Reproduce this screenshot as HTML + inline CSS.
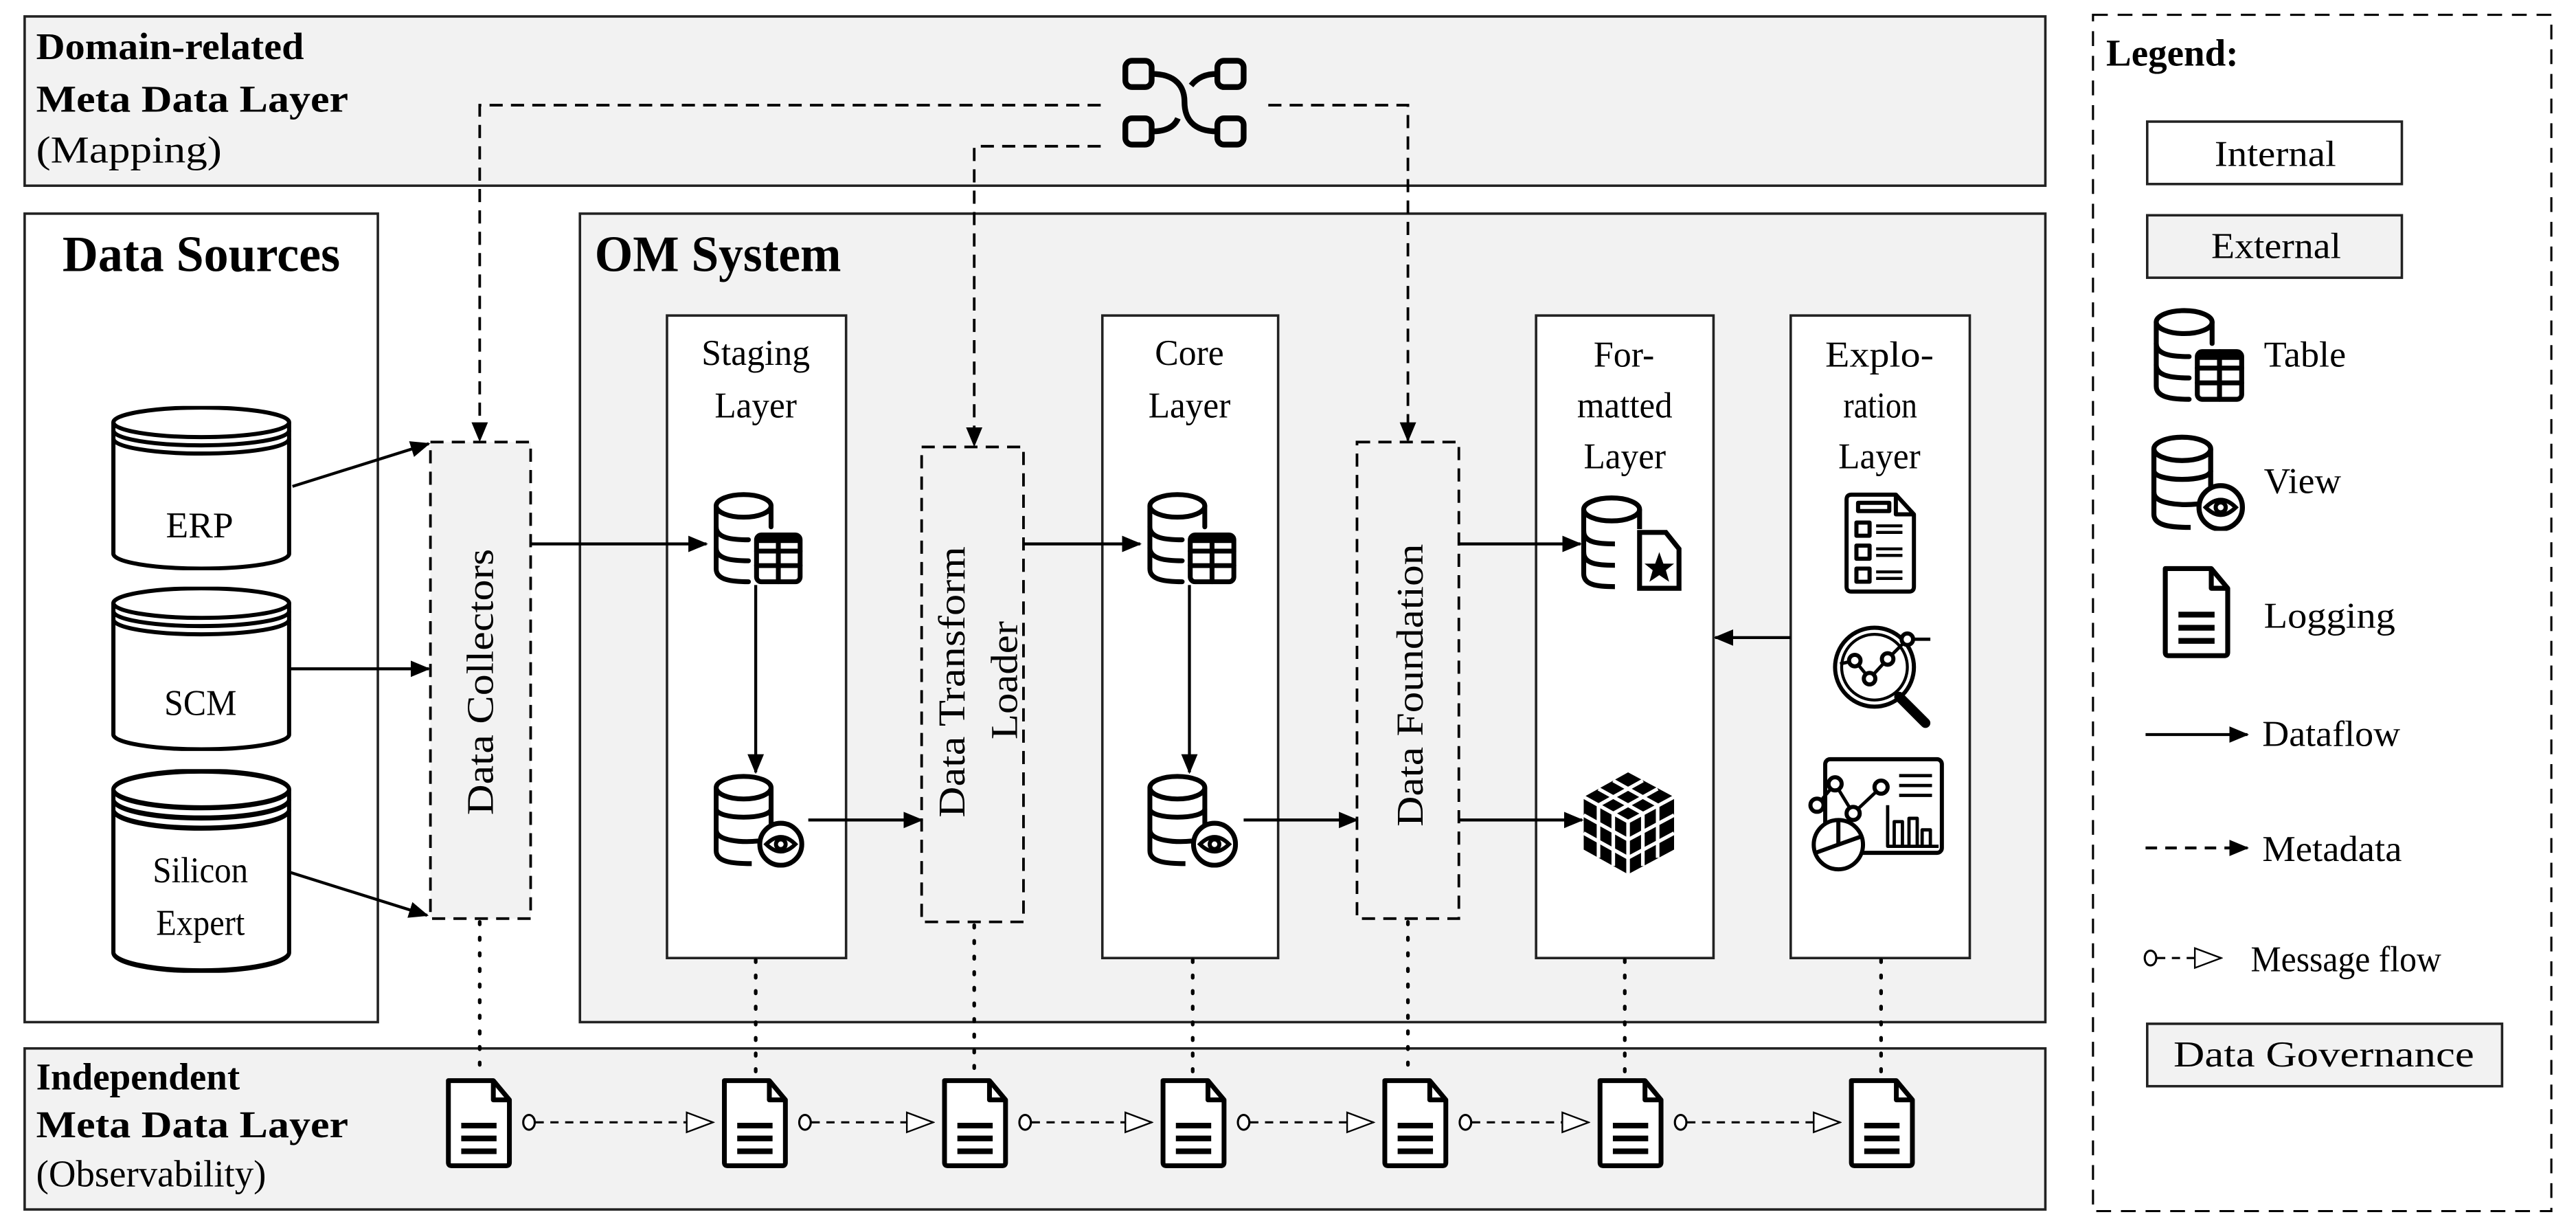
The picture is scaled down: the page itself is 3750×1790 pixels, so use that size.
<!DOCTYPE html>
<html><head><meta charset="utf-8"><style>
html,body{margin:0;padding:0;background:#fff;}
svg{display:block;}
svg text{font-family:"Liberation Serif","Times New Roman",serif !important;fill:#000;}
</style></head><body>
<svg width="3750" height="1790" viewBox="0 0 1568 748.5" preserveAspectRatio="none" xmlns="http://www.w3.org/2000/svg" style="font-family:'Liberation Serif',serif">
<defs>
<marker id="ah" markerWidth="12" markerHeight="10" refX="11" refY="5" orient="auto" markerUnits="userSpaceOnUse"><path d="M0,0 L12,5 L0,10 Z" fill="#000"/></marker>
<marker id="ot" markerWidth="18" markerHeight="14" refX="17" refY="7" orient="auto" markerUnits="userSpaceOnUse"><path d="M1,1 L17,7 L1,13 Z" fill="#fff" stroke="#000" stroke-width="1"/></marker>
<symbol id="tbl" viewBox="0 0 60 58"><g fill="none" stroke="#000" stroke-width="3" stroke-linecap="round">
<ellipse cx="22" cy="9" rx="17" ry="7"/><path d="M5,9 V48 C5,55 15,56 25,56"/><path d="M39,9 V22"/>
<path d="M5,22 C5,29 15,30 25,30"/><path d="M5,35 C5,42 15,43 25,43"/>
<rect x="30" y="27" width="27" height="29" rx="3"/><path d="M43.5,27 V56 M30,37 H57 M30,46 H57"/></g>
<rect x="30" y="27" width="27" height="5" fill="#000"/></symbol>
<symbol id="vw" viewBox="0 0 60 58"><g fill="none" stroke="#000" stroke-width="3">
<ellipse cx="21" cy="9" rx="17" ry="7"/><path d="M4,9 V48 C4,55 14,56 26,56"/><path d="M38,9 V32"/>
<path d="M4,22 C4,29 38,29 38,22"/><path d="M4,35 C4,42 20,43 30,42"/>
<circle cx="44" cy="44" r="13" fill="#fff"/><path d="M35,44 Q44,35 53,44 Q44,53 35,44 Z" stroke-width="2.5"/><circle cx="44" cy="44" r="3" stroke-width="2.5"/></g></symbol>
<symbol id="doc" viewBox="0 0 44 58"><g fill="#fff" stroke="#000" stroke-width="3" stroke-linejoin="round">
<path d="M3,3 H31 L41,15 V54 Q41,56 39,56 H5 Q3,56 3,54 Z"/><path d="M31,3 V15 H41" fill="none"/>
<path d="M11,31 H33 M11,39 H33 M11,47 H33" stroke-width="3.5"/></g></symbol>
<symbol id="cyl" viewBox="0 0 110 100" preserveAspectRatio="none"><g fill="#fff" stroke="#000" stroke-width="2.5">
<path d="M2,10 V90 A53,9 0 0 0 108,90 V10"/><ellipse cx="55" cy="10" rx="53" ry="9"/>
<path d="M2,15 A53,9 0 0 0 108,15 M2,20 A53,9 0 0 0 108,20" fill="none"/></g></symbol>
</defs>

<rect x="15" y="10" width="1230" height="103" fill="#f2f2f2" stroke="#222" stroke-width="1.5"/>
<text x="22" y="36" font-size="23" font-weight="bold" textLength="163" lengthAdjust="spacingAndGlyphs">Domain-related</text>
<text x="22" y="68" font-size="23" font-weight="bold" textLength="190" lengthAdjust="spacingAndGlyphs">Meta Data Layer</text>
<text x="22" y="99" font-size="23" textLength="113" lengthAdjust="spacingAndGlyphs">(Mapping)</text>
<g fill="none" stroke="#000" stroke-width="3.5">
<rect x="685" y="37" width="16" height="16" rx="4"/><rect x="685" y="72" width="16" height="16" rx="4"/>
<rect x="741" y="37" width="16" height="16" rx="4"/><rect x="741" y="72" width="16" height="16" rx="4"/>
<path d="M701,45 C716,45 721,53 721,62 C721,72 726,80 741,80"/>
<path d="M701,80 C710,80 715,77 717,72"/><path d="M725,52 C729,47 734,45 741,45"/>
</g>

<rect x="15" y="130" width="215" height="492" fill="#fff" stroke="#222" stroke-width="1.5"/>
<text x="38" y="165" font-size="31" font-weight="bold" textLength="169" lengthAdjust="spacingAndGlyphs">Data Sources</text>
<use href="#cyl" x="67" y="247" width="111" height="100"/>
<use href="#cyl" x="67" y="357" width="111" height="100"/>
<use href="#cyl" x="67" y="468" width="111" height="124"/>
<text x="101" y="327" font-size="22" textLength="41" lengthAdjust="spacingAndGlyphs">ERP</text>
<text x="100" y="435" font-size="22" textLength="44" lengthAdjust="spacingAndGlyphs">SCM</text>
<text x="93" y="537" font-size="22" textLength="58" lengthAdjust="spacingAndGlyphs">Silicon</text>
<text x="95" y="569" font-size="22" textLength="54" lengthAdjust="spacingAndGlyphs">Expert</text>

<rect x="353" y="130" width="892" height="492" fill="#f2f2f2" stroke="#222" stroke-width="1.5"/>
<text x="362" y="165" font-size="31" font-weight="bold" textLength="150" lengthAdjust="spacingAndGlyphs">OM System</text>

<g fill="none" stroke="#000" stroke-width="1.6" stroke-dasharray="8,5">
<path d="M670,64 H292 V268" marker-end="url(#ah)"/>
<path d="M670,89 H593 V271" marker-end="url(#ah)"/>
<path d="M772,64 H857 V268" marker-end="url(#ah)"/>
</g>

<g fill="#f2f2f2" stroke="#000" stroke-width="1.6" stroke-dasharray="8,5">
<rect x="262" y="269" width="61" height="290"/>
<rect x="561" y="272" width="62" height="289"/>
<rect x="826" y="269" width="62" height="290"/>
</g>
<text transform="translate(300,415) rotate(-90)" font-size="23" text-anchor="middle" textLength="162" lengthAdjust="spacingAndGlyphs">Data Collectors</text>
<text transform="translate(587,415) rotate(-90)" font-size="23" text-anchor="middle" textLength="165" lengthAdjust="spacingAndGlyphs">Data Transform</text>
<text transform="translate(619,414) rotate(-90)" font-size="23" text-anchor="middle" textLength="72" lengthAdjust="spacingAndGlyphs">Loader</text>
<text transform="translate(866,417) rotate(-90)" font-size="23" text-anchor="middle" textLength="172" lengthAdjust="spacingAndGlyphs">Data Foundation</text>

<g fill="#fff" stroke="#222" stroke-width="1.5">
<rect x="406" y="192" width="109" height="391"/>
<rect x="671" y="192" width="107" height="391"/>
<rect x="935" y="192" width="108" height="391"/>
<rect x="1090" y="192" width="109" height="391"/>
</g>
<g font-size="22" lengthAdjust="spacingAndGlyphs">
<text x="427" y="222" textLength="66" lengthAdjust="spacingAndGlyphs">Staging</text><text x="435" y="254" textLength="50" lengthAdjust="spacingAndGlyphs">Layer</text>
<text x="703" y="222" textLength="42" lengthAdjust="spacingAndGlyphs">Core</text><text x="699" y="254" textLength="50" lengthAdjust="spacingAndGlyphs">Layer</text>
<text x="970" y="223" textLength="37" lengthAdjust="spacingAndGlyphs">For-</text><text x="960" y="254" textLength="58" lengthAdjust="spacingAndGlyphs">matted</text><text x="964" y="285" textLength="50" lengthAdjust="spacingAndGlyphs">Layer</text>
<text x="1111" y="223" textLength="66" lengthAdjust="spacingAndGlyphs">Explo-</text><text x="1122" y="254" textLength="45" lengthAdjust="spacingAndGlyphs">ration</text><text x="1119" y="285" textLength="50" lengthAdjust="spacingAndGlyphs">Layer</text>
</g>

<use href="#tbl" x="431" y="299" width="59" height="57"/>
<use href="#vw" x="432" y="470" width="59" height="58"/>
<use href="#tbl" x="695" y="299" width="59" height="57"/>
<use href="#vw" x="696" y="470" width="59" height="58"/>

<g fill="none" stroke="#000" stroke-width="3">
<ellipse cx="981" cy="310" rx="17" ry="7"/><path d="M964,310 V349 C964,356 972,357 983,357"/><path d="M998,310 V322"/>
<path d="M964,323 C964,330 972,331 983,331"/><path d="M964,336 C964,343 972,344 983,344"/>
<path d="M998,324 H1014 L1022,334 V358 H998 Z" fill="#fff"/>
</g>
<path d="M1010,336 L1012.5,343 L1019,343 L1014,347 L1016,354 L1010,350 L1004,354 L1006,347 L1001,343 L1007.5,343 Z" fill="#000"/>
<g>
<path d="M991,470 L1019,485 L1019,517 L991,532 L964,517 L964,485 Z" fill="#000"/>
<g stroke="#fff" stroke-width="2.2" fill="none">
<path d="M964,485 L991,500 L1019,485 M991,500 V532"/>
<path d="M973,480 L1000,495 M982,475 L1009,490 M1009,480 L982,495 M1000,475 L973,490"/>
<path d="M964,496 L991,511 L1019,496 M964,507 L991,522 L1019,507"/>
<path d="M973,490 V522 M982,495 V527 M1000,495 V527 M1009,490 V522"/>
</g></g>

<g fill="none" stroke="#000" stroke-width="2.5" stroke-linejoin="round">
<path d="M1127,301 H1154 L1165,313 V357 Q1165,360 1162,360 H1127 Q1124,360 1124,357 V304 Q1124,301 1127,301 Z"/>
<path d="M1154,301 V313 H1165" />
<path d="M1131,306 H1150 V311 H1131 Z"/>
<rect x="1130" y="318" width="8" height="8"/><rect x="1130" y="332" width="8" height="8"/><rect x="1130" y="346" width="8" height="8"/>
<path d="M1142,320 H1158 M1142,324 H1158 M1142,334 H1158 M1142,338 H1158 M1142,348 H1158 M1142,352 H1158" stroke-width="1.8"/>
<circle cx="1141" cy="406" r="24"/><circle cx="1141" cy="406" r="20" stroke-width="1.8"/>
<path d="M1156,424 L1172,440" stroke-width="6" stroke-linecap="round"/>
<path d="M1120,404 L1129,402 L1138,413 L1149,401 L1161,389 H1175" stroke-width="2"/>
<circle cx="1129" cy="402" r="3.5" fill="#fff"/><circle cx="1138" cy="413" r="3.5" fill="#fff"/><circle cx="1149" cy="401" r="3.5" fill="#fff"/><circle cx="1161" cy="389" r="3.5" fill="#fff"/>
<rect x="1111" y="462" width="71" height="57" rx="3"/>
<path d="M1106,490 L1117,477 L1128,495 L1145,479" stroke-width="2"/>
<circle cx="1106" cy="490" r="4" fill="#fff"/><circle cx="1117" cy="477" r="4" fill="#fff"/><circle cx="1128" cy="495" r="4" fill="#fff"/><circle cx="1145" cy="479" r="4" fill="#fff"/>
<path d="M1156,472 H1176 M1156,478 H1176 M1156,484 H1176" stroke-width="2"/>
<path d="M1149,490 V515 H1180 M1153,515 V500 H1158 V515 M1162,515 V498 H1167 V515 M1170,515 V505 H1175 V515" stroke-width="2"/>
<circle cx="1119" cy="514" r="15" fill="#fff"/><path d="M1119,499 V514 L1105,519 M1119,514 L1133,509"/>
</g>

<g stroke="#000" stroke-width="1.8" fill="none" marker-end="url(#ah)">
<path d="M178,296 L261,270"/><path d="M177,407 L261,407"/><path d="M177,531 L260,557"/>
<path d="M323,331 L430,331"/>
<path d="M460,356 L460,470"/>
<path d="M492,499 L561,499"/>
<path d="M623,331 L694,331"/>
<path d="M724,356 L724,470"/>
<path d="M757,499 L826,499"/>
<path d="M888,331 L962,331"/>
<path d="M888,499 L963,499"/>
<path d="M1090,388 L1044,388"/>
</g>

<rect x="15" y="638" width="1230" height="98" fill="#f2f2f2" stroke="#222" stroke-width="1.5"/>
<text x="22" y="663" font-size="23" font-weight="bold" textLength="124" lengthAdjust="spacingAndGlyphs">Independent</text>
<text x="22" y="692" font-size="23" font-weight="bold" textLength="190" lengthAdjust="spacingAndGlyphs">Meta Data Layer</text>
<text x="22" y="722" font-size="23" textLength="140" lengthAdjust="spacingAndGlyphs">(Observability)</text>

<g stroke="#000" stroke-width="2.2" stroke-dasharray="1.5,8" stroke-linecap="round">
<path d="M292,561 V655"/><path d="M460,584 V655"/><path d="M593,563 V655"/><path d="M726,584 V655"/>
<path d="M857,561 V655"/><path d="M989,584 V655"/><path d="M1145,584 V655"/>
</g>
<use href="#doc" x="270" y="654" width="43" height="58"/>
<use href="#doc" x="438" y="654" width="43" height="58"/>
<use href="#doc" x="572" y="654" width="43" height="58"/>
<use href="#doc" x="705" y="654" width="43" height="58"/>
<use href="#doc" x="840" y="654" width="43" height="58"/>
<use href="#doc" x="971" y="654" width="43" height="58"/>
<use href="#doc" x="1124" y="654" width="43" height="58"/>
<g stroke="#000" stroke-width="1.3" fill="none">
<g stroke-dasharray="5,4" marker-end="url(#ot)">
<path d="M326,683 H434"/><path d="M494,683 H568"/><path d="M628,683 H701"/><path d="M761,683 H836"/><path d="M896,683 H967"/><path d="M1027,683 H1120"/>
</g>
<g fill="#fff"><ellipse cx="322" cy="683" rx="3.5" ry="4.5"/><ellipse cx="490" cy="683" rx="3.5" ry="4.5"/><ellipse cx="624" cy="683" rx="3.5" ry="4.5"/><ellipse cx="757" cy="683" rx="3.5" ry="4.5"/><ellipse cx="892" cy="683" rx="3.5" ry="4.5"/><ellipse cx="1023" cy="683" rx="3.5" ry="4.5"/></g>
</g>

<rect x="1274" y="9" width="279" height="728" fill="#fff" stroke="#000" stroke-width="1.3" stroke-dasharray="9,6"/>
<text x="1282" y="40" font-size="23" font-weight="bold">Legend:</text>
<rect x="1307" y="74" width="155" height="38" fill="#fff" stroke="#222" stroke-width="1.5"/>
<text x="1348" y="101" font-size="22" textLength="74" lengthAdjust="spacingAndGlyphs">Internal</text>
<rect x="1307" y="131" width="155" height="38" fill="#f2f2f2" stroke="#222" stroke-width="1.5"/>
<text x="1346" y="157" font-size="22" textLength="79" lengthAdjust="spacingAndGlyphs">External</text>
<use href="#tbl" x="1307" y="187" width="61" height="58"/>
<text x="1378" y="223" font-size="22" textLength="50" lengthAdjust="spacingAndGlyphs">Table</text>
<use href="#vw" x="1307" y="264" width="61" height="59"/>
<text x="1378" y="300" font-size="22" textLength="47" lengthAdjust="spacingAndGlyphs">View</text>
<use href="#doc" x="1315" y="343" width="44" height="58"/>
<text x="1378" y="382" font-size="22" textLength="80" lengthAdjust="spacingAndGlyphs">Logging</text>
<path d="M1306,447 H1368" stroke="#000" stroke-width="1.8" marker-end="url(#ah)"/>
<text x="1377" y="454" font-size="22" textLength="84" lengthAdjust="spacingAndGlyphs">Dataflow</text>
<path d="M1306,516 H1368" stroke="#000" stroke-width="1.8" stroke-dasharray="7,5" marker-end="url(#ah)"/>
<text x="1377" y="524" font-size="22" textLength="85" lengthAdjust="spacingAndGlyphs">Metadata</text>
<ellipse cx="1309" cy="583" rx="3.5" ry="4.5" fill="#fff" stroke="#000" stroke-width="1.3"/>
<path d="M1313,583 H1352" stroke="#000" stroke-width="1.3" stroke-dasharray="5,4" marker-end="url(#ot)"/>
<text x="1370" y="591" font-size="22" textLength="116" lengthAdjust="spacingAndGlyphs">Message flow</text>
<rect x="1307" y="623" width="216" height="38" fill="#f2f2f2" stroke="#222" stroke-width="1.5"/>
<text x="1323" y="649" font-size="22" textLength="183" lengthAdjust="spacingAndGlyphs">Data Governance</text>
</svg>
</body></html>
